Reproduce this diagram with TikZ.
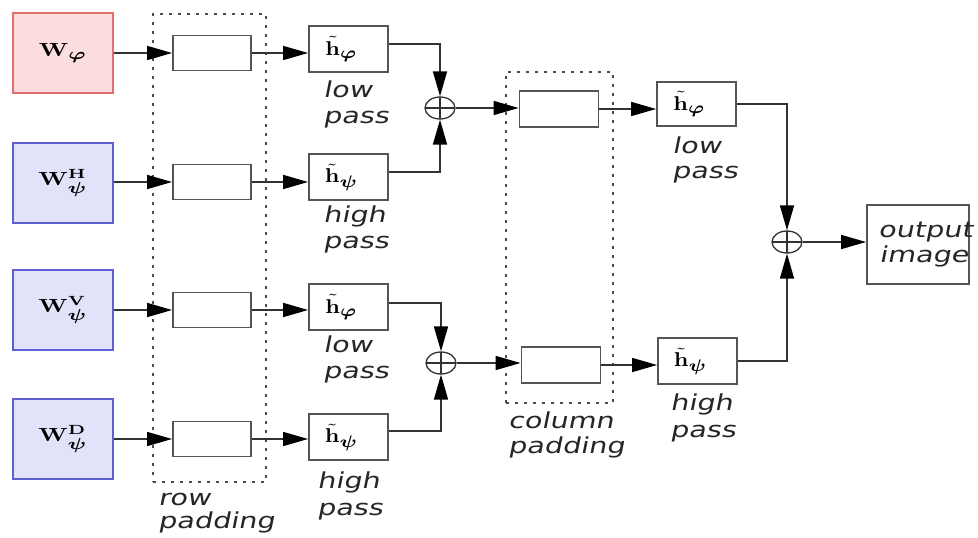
\RequirePackage{fix-cm}
\documentclass[tikz,border=0pt]{standalone}
\usepackage{amsmath}
\usepackage[no-math]{fontspec}
\newfontfamily\lblfont[FakeStretch=1.3,FakeSlant=0.2]{DejaVu Sans}
\usetikzlibrary{arrows.meta,shapes.geometric}
\definecolor{redfill}{RGB}{253,222,222}
\definecolor{redline}{RGB}{228,110,110}
\definecolor{bluefill}{RGB}{226,226,250}
\definecolor{blueline}{RGB}{95,95,210}
\definecolor{boxline}{RGB}{85,85,85}
\definecolor{lineclr}{RGB}{50,50,50}
\newcommand{\bsub}[1]{\scalebox{1.2}{$\scriptstyle\boldsymbol{#1}$}}
\newcommand{\wlab}[1]{\scalebox{1.3}[1]{\scalebox{1.9}{$#1$}}}
\newcommand{\hlab}[1]{\scalebox{1.15}[1]{\scalebox{2.0}{$#1$}}\hspace*{14pt}}
\begin{document}
\begin{tikzpicture}[x=1pt,y=-1pt,
  conn/.style={line width=1.5pt, draw=lineclr},
  arr/.style={conn, -{Triangle[length=25pt,width=14pt,fill=black,color=black]}},
  inbox/.style={draw, line width=1.5pt, minimum width=100pt, minimum height=80pt, inner sep=0pt},
  redbox/.style={inbox, draw=redline, fill=redfill},
  bluebox/.style={inbox, draw=blueline, fill=bluefill},
  padbox/.style={draw=boxline, line width=1.8pt, minimum width=78pt, minimum height=35pt, inner sep=0pt},
  filt/.style={draw=boxline, line width=1.8pt, minimum width=79pt, minimum height=46pt, inner sep=0pt},
  sumnode/.style={ellipse, draw=lineclr, line width=1.3pt, minimum width=30pt, minimum height=22pt, inner sep=0pt,
     path picture={\draw[line width=1.3pt, lineclr] (path picture bounding box.north) -- (path picture bounding box.south)
       (path picture bounding box.west) -- (path picture bounding box.east);}},
  padframe/.style={draw=black!70, line width=1.8pt, dash pattern=on 3pt off 6pt},
  lbl/.style={font=\lblfont\fontsize{22}{24}\selectfont, text=black!85, anchor=base west, inner sep=0pt}
]
\useasboundingbox (0,0) rectangle (978,538);

% padding frames
\node[padframe, minimum width=113pt, minimum height=468pt, inner sep=0pt] (rowframe) at (209.5,248) {};
\node[padframe, minimum width=107pt, minimum height=331pt, inner sep=0pt] (colframe) at (559.5,237.5) {};

% inputs
\node[redbox] (w1) at (63,53) {\wlab{\mathbf{W}_{\bsub{\varphi}}}};
\node[bluebox] (w2) at (63,183) {\wlab{\mathbf{W}^{\mathbf{H}}_{\bsub{\psi}}}};
\node[bluebox] (w3) at (63,310) {\wlab{\mathbf{W}^{\mathbf{V}}_{\bsub{\psi}}}};
\node[bluebox] (w4) at (63,439) {\wlab{\mathbf{W}^{\mathbf{D}}_{\bsub{\psi}}}};

% row padding boxes
\node[padbox] (p1) at (212,53) {};
\node[padbox] (p2) at (212,182) {};
\node[padbox] (p3) at (212,310) {};
\node[padbox] (p4) at (212,439) {};

% filters
\node[filt] (f1) at (348.5,49) {\hlab{\tilde{\mathbf{h}}_{\bsub{\varphi}}}};
\node[filt] (f2) at (348.5,177) {\hlab{\tilde{\mathbf{h}}_{\bsub{\psi}}}};
\node[filt] (f3) at (348.5,307) {\hlab{\tilde{\mathbf{h}}_{\bsub{\varphi}}}};
\node[filt] (f4) at (348.5,437) {\hlab{\tilde{\mathbf{h}}_{\bsub{\psi}}}};

% sums
\node[sumnode] (s1) at (440,108) {};
\node[sumnode] (s2) at (441,363) {};

% column padding boxes
\node[padbox, minimum width=79pt, minimum height=36pt] (c1) at (559,109) {};
\node[padbox, minimum width=79pt, minimum height=36pt] (c2) at (561,365) {};

% right filters
\node[filt, minimum height=44pt] (r1) at (696.5,104) {\hlab{\tilde{\mathbf{h}}_{\bsub{\varphi}}}};
\node[filt] (r2) at (697.5,361) {\hlab{\tilde{\mathbf{h}}_{\bsub{\psi}}}};

% final sum and output
\node[sumnode] (s3) at (787,242) {};
\node[draw=boxline, line width=1.8pt, minimum width=102pt, minimum height=79pt, inner sep=0pt] (out) at (918,244.5) {};

% connectors
\foreach \i in {1,2,3,4}{
  \draw[arr] (w\i.east |- p\i.west) -- (p\i.west);
  \draw[arr] (p\i.east) -- (p\i.east -| f\i.west);
}
\draw[arr] ([yshift=5pt]f1.east) -| (s1.north);
\draw[arr] ([yshift=5pt]f2.east) -| (s1.south);
\draw[arr] ([yshift=4pt]f3.east) -| (s2.north);
\draw[arr] ([yshift=6pt]f4.east) -| (s2.south);
\draw[arr] (s1.east) -- (s1.east -| c1.west);
\draw[arr] (s2.east) -- (s2.east -| c2.west);
\draw[arr] (c1.east) -- (c1.east -| r1.west);
\draw[arr] (c2.east) -- (c2.east -| r2.west);
\draw[arr] (r1.east) -| (s3.north);
\draw[arr] (r2.east) -| (s3.south);
\draw[arr] (s3.east) -- (s3.east -| out.west);

% labels
\node[lbl] (l1a) at (323,97) {low};
\node[lbl] (l1b) at (323,123) {pass};
\node[lbl] (l2a) at (323,222) {high};
\node[lbl] (l2b) at (323,248) {pass};
\node[lbl] (l3a) at (323,352) {low};
\node[lbl] (l3b) at (323,378) {pass};
\node[lbl] (l4a) at (317,488) {high};
\node[lbl] (l4b) at (317,515) {pass};
\node[lbl] (l5a) at (672,153) {low};
\node[lbl] (l5b) at (672,178) {pass};
\node[lbl] (l6a) at (670,410) {high};
\node[lbl] (l6b) at (670,437) {pass};
\node[lbl] (lra) at (158,505) {row};
\node[lbl] (lrb) at (158,528) {padding};
\node[lbl] (lca) at (508,428) {column};
\node[lbl] (lcb) at (508,453) {padding};
\node[lbl] (loa) at (878,237) {output};
\node[lbl] (lob) at (879,262) {image};
\end{tikzpicture}
\end{document}
